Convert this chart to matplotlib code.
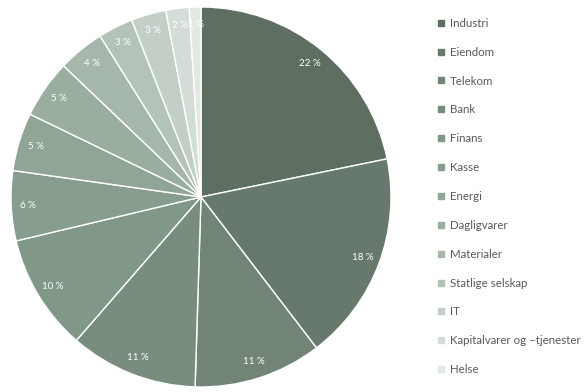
import matplotlib.pyplot as plt
from matplotlib.lines import Line2D

plt.rcParams['font.family'] = ['Lato', 'DejaVu Sans']

sectors = ["Industri", "Eiendom", "Telekom", "Bank", "Finans", "Kasse", "Energi",
           "Dagligvarer", "Materialer", "Statlige selskap", "IT",
           "Kapitalvarer og \u2013tjenester", "Helse"]
shares = [22, 18, 11, 11, 10, 6, 5, 5, 4, 3, 3, 2, 1]
colors = ["#5e6f62", "#67796c", "#718476", "#798d7f", "#819787", "#879d8e",
          "#90a596", "#9aae9f", "#a5b7aa", "#b3c3b7", "#c3cfc6", "#d3dcd6", "#e2e8e4"]

fig = plt.figure(figsize=(5.84, 3.92), dpi=100)
ax = fig.add_axes([11 / 584, 5 / 392, 380 / 584, 380 / 392])

total = sum(shares)
wedges, _, autotexts = ax.pie(
    shares, colors=colors, startangle=90, counterclock=False,
    wedgeprops=dict(edgecolor="white", linewidth=1.0),
    autopct=lambda p: f"{round(p * total / 100)} %", pctdistance=0.91,
    textprops=dict(color="white", fontsize=7))
ax.set_xlim(-1, 1)
ax.set_ylim(-1, 1)
ax.set_aspect("equal")

handles = [Line2D([], [], marker="s", linestyle="none", markersize=4.8,
                  markerfacecolor=c, markeredgecolor=c) for c in colors]
fig.legend(handles, sectors, loc="upper left", bbox_to_anchor=(432 / 584, 1 - 12 / 392),
           frameon=False, fontsize=8.3, labelcolor="#595959", labelspacing=1.55,
           handlelength=0.6, handletextpad=0.45, borderpad=0)

fig.savefig("out.png", dpi=100)
